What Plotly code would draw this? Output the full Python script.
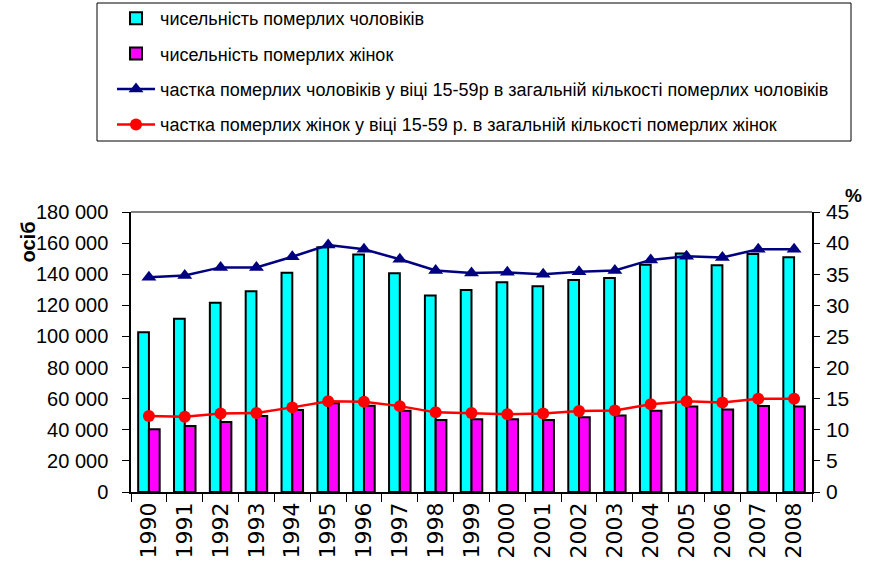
import plotly.graph_objects as go

years = [str(y) for y in range(1990, 2009)]
men_deaths = [102700, 111400, 121700, 129000, 141000, 157300, 152600, 140600, 126400, 129900,
              134800, 132200, 136300, 137600, 146100, 153400, 145700, 153000, 150900]
women_deaths = [40300, 42400, 45000, 48900, 52700, 57000, 55500, 52300, 46300, 46700,
                46700, 46300, 48000, 49100, 52300, 54900, 53100, 55300, 54900]
men_share = [34.5, 34.8, 36.1, 36.1, 37.8, 39.7, 39.0, 37.4, 35.6, 35.2,
             35.3, 35.0, 35.4, 35.6, 37.3, 37.9, 37.7, 39.0, 39.0]
women_share = [12.2, 12.1, 12.6, 12.7, 13.6, 14.6, 14.5, 13.8, 12.8, 12.7,
               12.5, 12.6, 13.0, 13.1, 14.1, 14.6, 14.4, 15.0, 15.0]

names = [
    "чисельність померлих чоловіків",
    "чисельність померлих жінок",
    "частка померлих чоловіків у віці 15-59р в загальній кількості померлих чоловіків",
    "частка померлих жінок у віці 15-59 р. в загальній кількості померлих жінок",
]

FONT = "Liberation Sans, Arial, sans-serif"

W, H = 877, 576
PL, PR, PT, PB = 131, 812, 212, 492  # plot area in pixels
PW, PH = PR - PL, PB - PT


def px(x):
    return (x - PL) / PW


def py(y):
    return (PB - y) / PH


fig = go.Figure()
fig.add_trace(go.Bar(x=years, y=men_deaths, name=names[0], legendgroup="a",
                     marker=dict(color="#00FFFF", line=dict(color="black", width=2))))
fig.add_trace(go.Bar(x=years, y=women_deaths, name=names[1], legendgroup="b",
                     marker=dict(color="#FF00FF", line=dict(color="black", width=2))))
fig.add_trace(go.Scatter(x=years, y=men_share, name=names[2], yaxis="y2", legendgroup="c",
                         mode="lines+markers", line=dict(color="#000080", width=2.5),
                         marker=dict(symbol="triangle-up", size=13, color="#000080")))
fig.add_trace(go.Scatter(x=years, y=women_share, name=names[3], yaxis="y2", legendgroup="d",
                         mode="lines+markers", line=dict(color="#FF0000", width=2.5),
                         marker=dict(symbol="circle", size=12, color="#FF0000")))

fig.update_layout(
    width=W, height=H,
    margin=dict(l=PL, r=W - PR, t=PT, b=H - PB, autoexpand=False),
    paper_bgcolor="white", plot_bgcolor="white",
    separators=". ",
    barmode="group", bargap=0.4, bargroupgap=0,
    font=dict(family=FONT, color="black", size=18),
    showlegend=True,
    legend=dict(xref="container", yref="container",
                x=112 / W, y=1 + 2 / H, xanchor="left", yanchor="top",
                traceorder="grouped", tracegroupgap=9, itemwidth=38,
                font=dict(family=FONT, size=18, color="black"),
                bgcolor="rgba(0,0,0,0)", borderwidth=0),
    xaxis=dict(type="category", range=[-0.5, 18.5], tickson="boundaries", ticks="outside",
               ticklen=8, tickcolor="black", showline=True, linecolor="black", linewidth=1.5,
               tickangle=-90, showgrid=False, automargin=False,
               tickfont=dict(family="DejaVu Sans, Arial, sans-serif", size=22, color="black")),
    yaxis=dict(range=[0, 180000], dtick=20000, tickformat=",d", ticks="outside", ticklen=7,
               tickcolor="black", showline=True, linecolor="black", linewidth=1.5,
               showgrid=False, zeroline=False, automargin=False, ticklabelstandoff=10,
               tickfont=dict(family=FONT, size=20, color="black")),
    yaxis2=dict(range=[0, 45], dtick=5, overlaying="y", side="right", ticks="outside",
                ticklen=6, tickcolor="black", showline=True, linecolor="black", linewidth=1.5,
                showgrid=False, zeroline=False, automargin=False, ticklabelstandoff=2,
                tickfont=dict(family=FONT, size=21, color="black")),
    shapes=[
        dict(type="line", xref="paper", yref="paper", x0=0, x1=1, y0=1, y1=1,
             line=dict(color="#808080", width=2)),
        dict(type="rect", xref="paper", yref="paper",
             x0=px(97), x1=px(851), y0=py(141), y1=py(3),
             line=dict(color="black", width=1)),
    ],
    annotations=[
        dict(text="<b>осіб</b>", xref="paper", yref="paper",
             x=px(14), y=py(220), showarrow=False, textangle=-90,
             font=dict(family=FONT, size=20, color="black")),
        dict(text="<b>%</b>", xref="paper", yref="paper",
             x=px(864), y=py(183), showarrow=False,
             font=dict(family=FONT, size=19, color="black")),
    ],
)

fig.write_html("out.html", config={"displayModeBar": False},
               post_script="document.body.style.margin='0px';")
